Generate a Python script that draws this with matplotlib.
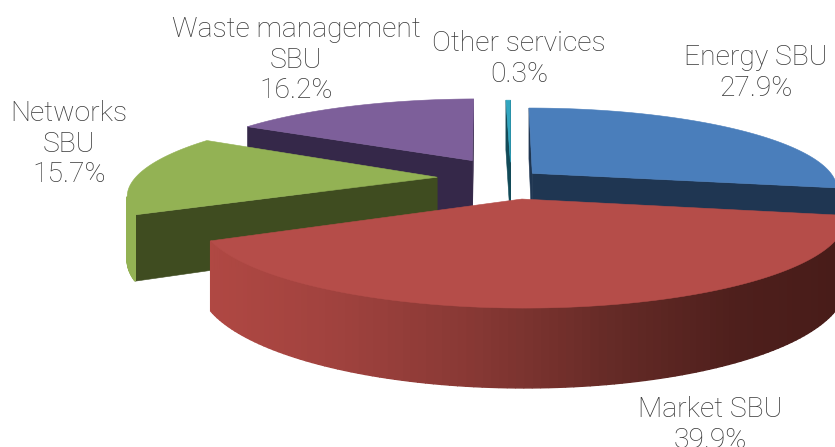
import numpy as np
import matplotlib
matplotlib.use("Agg")
import matplotlib.pyplot as plt
from matplotlib.patches import Polygon

# datos del grafico
names = ["Energy SBU", "Market SBU", "Networks\nSBU", "Waste management\nSBU", "Other services"]
values = [27.9, 39.9, 15.7, 16.2, 0.3]

top_colors = ["#4a7ebb", "#b54d49", "#93b254", "#7d5f9a", "#31a6c0"]
cut_colors = ["#1f3652", "#6e2c28", "#3f4c20", "#352849", "#124a58"]
explode = [28, 77, 74, 80, 62]
draw_order = [4, 3, 0, 2, 1]

label_pos = [(756, 73), (710, 425), (69, 144), (296, 60), (519, 59)]

# camara / perspectiva (en pixeles)
R = 302
D = 1600
A = 420
H = 61
cx = 511
y0 = 178
hor = y0 - A


def proy(X, Z, h=0):
    s = D / (D + Z)
    return cx + X * s, hor + (A - h) * s


def color_lado(x):
    # rojo del borde del sector grande, mas oscuro hacia la derecha
    xs = [210, 340, 480, 620, 740, 835]
    r = [176, 160, 135, 100, 78, 72]
    g = [72, 66, 56, 42, 31, 28]
    b = [67, 62, 52, 38, 28, 25]
    return (np.interp(x, xs, r) / 255, np.interp(x, xs, g) / 255, np.interp(x, xs, b) / 255)


def poligono(ax, pts, color, z, lw=0.4):
    ax.add_patch(Polygon(pts, closed=True, facecolor=color, edgecolor=color, lw=lw, zorder=z))


fig = plt.figure(figsize=(8.35, 4.47), dpi=100)
ax = fig.add_axes([0, 0, 1, 1])
ax.set_xlim(0, 835)
ax.set_ylim(447, 0)
ax.axis("off")

limites = np.cumsum([0] + values) * 2 * np.pi / 100

z = 1
for i in draw_order:
    t1, t2 = limites[i], limites[i + 1]
    tm = (t1 + t2) / 2
    ox, oz = explode[i] * np.sin(tm), explode[i] * np.cos(tm)
    tt = np.linspace(t1, t2, 120)
    bx = ox + R * np.sin(tt)
    bz = oz + R * np.cos(tt)

    # caras de corte
    for t, nx, nz in [(t1, -np.cos(t1), np.sin(t1)), (t2, np.cos(t2), -np.sin(t2))]:
        if nx * (0 - ox) + nz * (-D - oz) > 0:
            ex, ez = ox + R * np.sin(t), oz + R * np.cos(t)
            pts = [proy(ox, oz), proy(ex, ez), proy(ex, ez, -H), proy(ox, oz, -H)]
            poligono(ax, pts, cut_colors[i], z)
            z += 1

    # borde exterior
    for k in range(len(tt) - 1):
        tk = (tt[k] + tt[k + 1]) / 2
        if np.sin(tk) * (-bx[k]) + np.cos(tk) * (-D - bz[k]) <= 0:
            continue
        pts = [proy(bx[k], bz[k]), proy(bx[k + 1], bz[k + 1]),
               proy(bx[k + 1], bz[k + 1], -H), proy(bx[k], bz[k], -H)]
        col = color_lado(pts[0][0]) if i == 1 else top_colors[i]
        poligono(ax, pts, col, z, lw=1.0)
    z += 1

    # cara superior
    arco = [proy(a, b) for a, b in zip(bx, bz)]
    poligono(ax, [proy(ox, oz)] + arco, top_colors[i], z)
    z += 1

for name, val, (tx, ty) in zip(names, values, label_pos):
    ax.text(tx, ty, f"{name}\n{val}%", ha="center", va="center", fontsize=20.3,
            family="Roboto", weight="light", color="#383838", linespacing=1.15, zorder=z)

fig.savefig("out.png", dpi=100)
